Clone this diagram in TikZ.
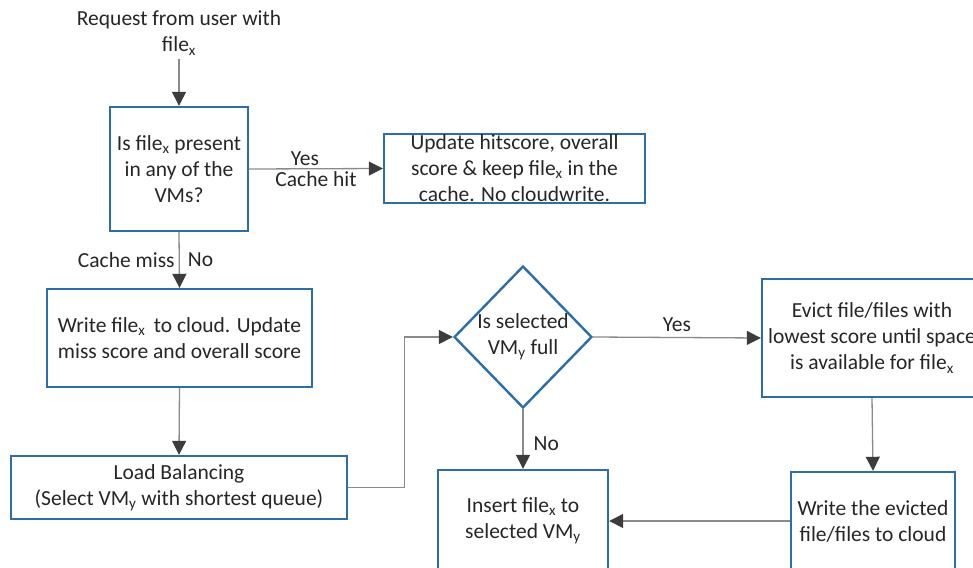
\documentclass[tikz,border=0pt]{standalone}
\usepackage{fontspec}
\setmainfont{Carlito}
\usepackage{tikz}
\usetikzlibrary{shapes.geometric,arrows.meta}

\definecolor{boxblue}{HTML}{2D6EA5}
\definecolor{linegray}{HTML}{8A8A8A}
\definecolor{tipgray}{HTML}{3C3C3C}
\definecolor{txt}{HTML}{262626}

\newcommand{\fx}{file\textsubscript{x}}
\newcommand{\vmy}{VM\textsubscript{y}}

\begin{document}
\begin{tikzpicture}[x=1pt,y=-1pt,
	every node/.style={font=\fontsize{21.5}{26}\selectfont,text=txt,align=center},
	box/.style={draw=boxblue,line width=2.4pt,fill=white,inner sep=0pt},
	flow/.style={draw=linegray,line width=1.3pt,-{Triangle[length=14pt,width=14pt,fill=tipgray,color=tipgray]}},
	lbl/.style={inner sep=2pt}]
	\clip (0,0) rectangle (973,567);
	\useasboundingbox (0,0) rectangle (973,567);
	% boxes
	\node (req) at (179,33) {Request from user with\\\fx};
	\node[box,minimum width=138pt,minimum height=124pt] (present) at (179,169) {Is \fx{} present\\in any of the\\VMs?};
	\node[box,minimum width=261pt,minimum height=69pt] (hit) at (514.5,168.5) {Update hitscore, overall\\score \& keep \fx{} in the\\cache. No cloudwrite.};
	\node[box,minimum width=265pt,minimum height=98pt] (cloud) at (179.5,338) {Write \fx{}\, to cloud. Update\\miss score and overall score};
	\node[box,minimum width=336pt,minimum height=63pt] (lb) at (179,487.5) {Load Balancing\\(Select \vmy{} with shortest queue)};
	\node[draw=boxblue,line width=2.4pt,diamond,inner sep=0pt,minimum width=130pt,minimum height=142pt] (full) at (523,337) {Is selected\\\vmy{} full};
	\node[box,minimum width=220pt,minimum height=118pt] (evict) at (872,338) {Evict file/files with\\lowest score until space\\is available for \fx};
	\node[box,minimum width=164pt,minimum height=98pt] (wevict) at (873,521) {Write the evicted\\file/files to cloud};
	\node[box,minimum width=170pt,minimum height=102pt] (insert) at (523,521) {Insert \fx{} to\\selected \vmy};
	% arrows
	\draw[flow] (req.south) -- (present.north);
	\draw[flow] (present.east) -- node[lbl,above,xshift=-11pt]{Yes} node[lbl,below]{Cache hit} (hit.west);
	\draw[flow] (present.south) -- node[lbl,left,xshift=-2pt]{Cache miss} node[lbl,right,xshift=6pt]{No} (cloud.north);
	\draw[flow] (cloud.south) -- (lb.north);
	\draw[flow] (lb.east) -- ++(56,0) |- (full.west);
	\draw[flow] (full.east) -- node[lbl,above,yshift=3pt]{Yes} (evict.west);
	\draw[flow] (full.south) -- node[lbl,right,xshift=8pt,yshift=-5pt]{No} (insert.north);
	\draw[flow] (evict.south) -- (wevict.north);
	\draw[flow] (wevict.west) -- (insert.east);
\end{tikzpicture}
\end{document}
